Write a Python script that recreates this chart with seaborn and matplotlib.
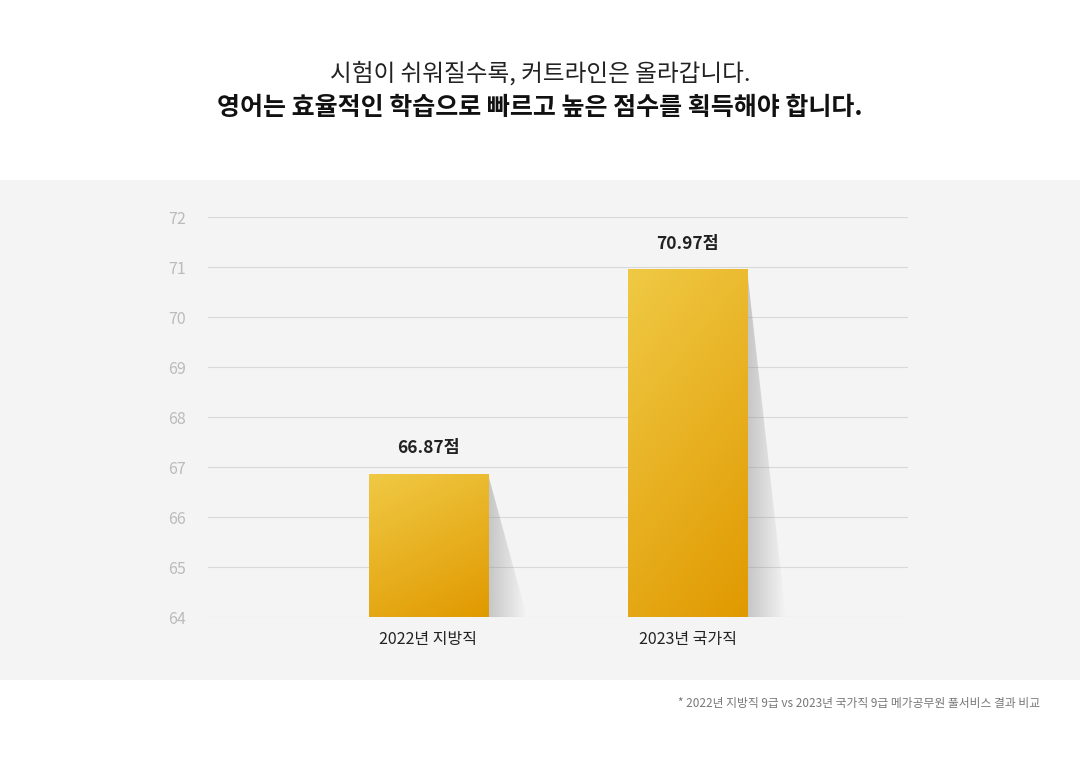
import numpy as np
import matplotlib
matplotlib.use("Agg")
import matplotlib.pyplot as plt
from matplotlib import font_manager
from matplotlib.patches import Polygon, Rectangle
import seaborn as sns
import pandas as pd

categories = ["2022년 지방직", "2023년 국가직"]
values = [66.87, 70.97]
value_labels = ["66.87점", "70.97점"]
yticks = [64, 65, 66, 67, 68, 69, 70, 71, 72]

names = {f.name for f in font_manager.fontManager.ttflist}
fam = [n for n in ["Noto Sans CJK KR", "Noto Sans CJK JP", "Noto Sans CJK SC",
                   "Noto Sans CJK TC"] if n in names] + ["DejaVu Sans"]
plt.rcParams["font.family"] = fam

fig = plt.figure(figsize=(10.8, 7.6), dpi=100)
fig.patch.set_facecolor("white")
fig.add_artist(Rectangle((0, 80/760), 1, 500/760, transform=fig.transFigure,
                         facecolor="#f4f4f4", edgecolor="none", zorder=0))
ax = fig.add_axes([208/1080, 143/760, 700/1080, 400/760])
ax.set_facecolor("#f4f4f4")
df = pd.DataFrame({"cat": categories, "val": values})
width = 0.46
sns.barplot(data=df, x="cat", y="val", ax=ax, width=width, color="#e8a500", zorder=3)
ax.set_ylim(64, 72)
ax.set_xlim(-0.85, 1.85)
ax.set_yticks(yticks)
ax.grid(axis="y", color="#d8d8d8", lw=0.8, zorder=0)
for s in ax.spines.values():
    s.set_visible(False)
ax.tick_params(length=0)
ax.tick_params(axis="y", labelsize=11.5, labelcolor="#bbbbbb", pad=16)
ax.tick_params(axis="x", labelsize=11.5, labelcolor="#222222", pad=10)
for lbl in ax.get_xticklabels() + ax.get_yticklabels():
    lbl.set_fontfamily(fam)
ax.set_xlabel(""); ax.set_ylabel("")

gy, gx = np.mgrid[0:1:200j, 0:1:200j]
t = np.clip(gy * 0.7 + gx * 0.3, 0, 1)  # 0 at top-left
c1 = np.array([0.94, 0.79, 0.27]); c2 = np.array([0.88, 0.60, 0.0])
grad = c1 + (c2 - c1) * t[..., None]
for p, v, lab in zip(ax.patches, values, value_labels):
    x0 = p.get_x(); w = p.get_width()
    im = ax.imshow(grad, extent=(x0, x0 + w, 64, v), origin="upper", aspect="auto", zorder=4)
    im.set_clip_path(p)
    poly = Polygon([(x0 + w, v), (x0 + w, 64), (x0 + w + 0.15, 64)], closed=True,
                   facecolor="none", edgecolor="none", transform=ax.transData)
    ax.add_patch(poly)
    sh = np.zeros((50, 100, 4))
    sx = np.linspace(0, 1, 100)
    sh[..., :3] = 0.55
    sh[..., 3] = (0.45 * (1 - sx))[None, :]
    im2 = ax.imshow(sh, extent=(x0 + w, x0 + w + 0.15, 64, v), origin="upper",
                    aspect="auto", zorder=2)
    im2.set_clip_path(poly)
    ax.text(x0 + w / 2, v + 0.32, lab, ha="center", va="bottom", fontsize=12.5,
            fontweight="bold", color="#222222", zorder=5)
ax.set_xlim(-0.85, 1.85); ax.set_ylim(64, 72)

fig.text(0.5, 1 - 73/760, "시험이 쉬워질수록, 커트라인은 올라갑니다.", ha="center", va="center",
         fontsize=17, color="#222222")
fig.text(0.5, 1 - 108/760, "영어는 효율적인 학습으로 빠르고 높은 점수를 획득해야 합니다.", ha="center",
         va="center", fontsize=18, fontweight="bold", color="#111111")
fig.text(1040/1080, 1 - 703/760, "* 2022년 지방직 9급 vs 2023년 국가직 9급 메가공무원 풀서비스 결과 비교",
         ha="right", va="center", fontsize=8.5, color="#777777")
fig.savefig("out.png", dpi=100, facecolor="white")
